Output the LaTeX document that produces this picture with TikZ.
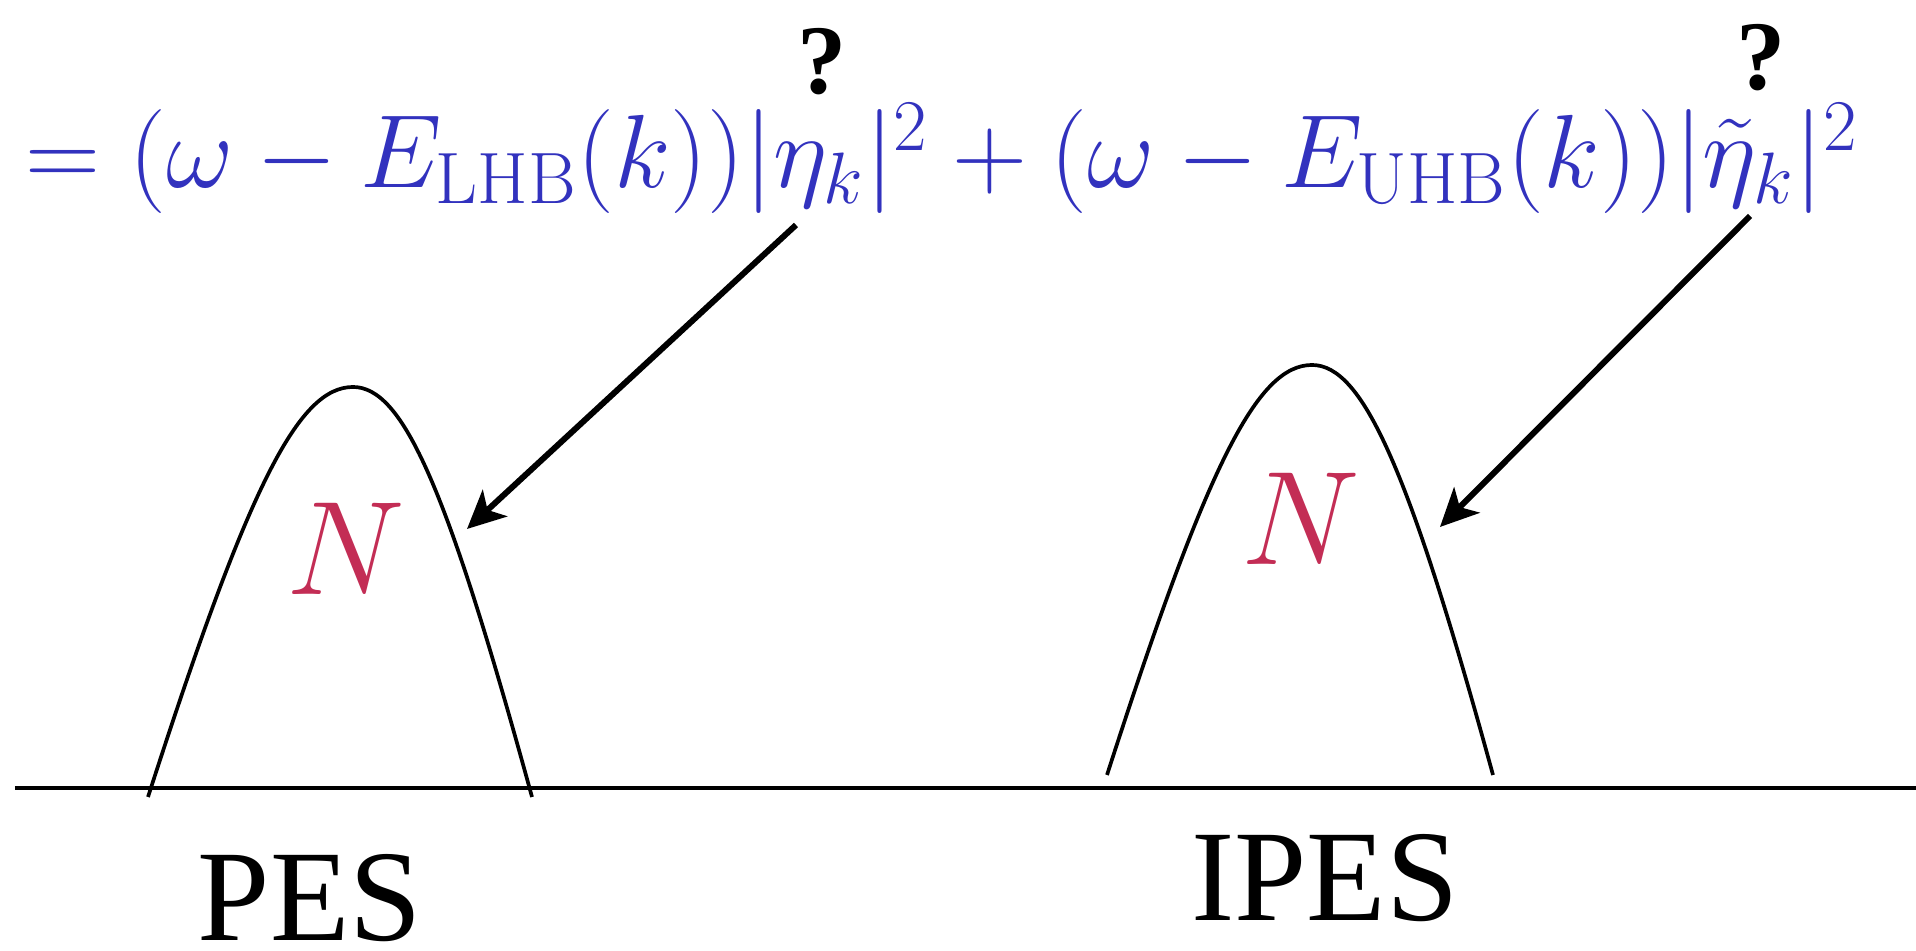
\RequirePackage{fix-cm}
\documentclass[tikz,border=0pt]{standalone}
\usepackage{fontspec}
\newfontfamily\timesfont{Liberation Serif}
\usepackage{amsmath}
\usepackage{tikz}
\usetikzlibrary{positioning, arrows.meta, calc}
\definecolor{formulablue}{RGB}{50, 50, 190}
\definecolor{densred}{RGB}{195, 45, 85}

\begin{document}
\begin{tikzpicture}[
  formula/.style={inner sep=0pt, anchor=base, text=formulablue,
    font=\fontsize{29.6}{34}\selectfont},
  query/.style={inner sep=0pt, anchor=base,
    font=\timesfont\bfseries\fontsize{28}{32}\selectfont},
  weight/.style={inner sep=0pt, anchor=base, text=densred,
    font=\fontsize{38}{44}\selectfont},
  spectro/.style={inner sep=0pt, anchor=base,
    font=\timesfont\fontsize{37}{42}\selectfont},
  hump/.style={line width=1.05pt},
  pointer/.style={line width=1.7pt,
    -{Stealth[length=3.8mm, width=3.6mm, inset=1mm]}}
]
  \useasboundingbox (0,0) rectangle (19.16,9.51);

  % spectral weight formula
  \node[formula] (eqn) at (9.42,7.63)
    {$=(\omega-E_{\mathrm{LHB}}(k))|\eta_k|^2+(\omega-E_{\mathrm{UHB}}(k))|\tilde{\eta}_k|^2$};
  \node[query] (qL) at (8.22,8.57) {?};
  \node[query] (qR) at (17.61,8.61) {?};

  % axis
  \coordinate (axL) at (0.15,1.63);
  \coordinate (axR) at (19.16,1.63);
  \draw[line width=1.4pt] (axL) -- (axR);

  % PES hump
  \coordinate (pesA) at (1.48,1.54);
  \coordinate (pesT) at (3.53,5.64);
  \coordinate (pesB) at (5.32,1.54);
  \draw[hump] (pesA) .. controls (2.48,4.64) and (2.98,5.64) .. (pesT)
    .. controls (4.03,5.64) and (4.47,4.64) .. (pesB);

  % IPES hump
  \coordinate (ipesA) at (11.07,1.76);
  \coordinate (ipesT) at (13.12,5.86);
  \coordinate (ipesB) at (14.93,1.76);
  \draw[hump] (ipesA) .. controls (12.07,4.86) and (12.57,5.86) .. (ipesT)
    .. controls (13.62,5.86) and (14.08,4.86) .. (ipesB);

  \node[weight] (nL) at (3.46,3.56) {$N$};
  \node[weight] (nR) at (13.01,3.86) {$N$};

  \node[spectro] (pes) at (3.10,0.10) {PES};
  \node[spectro] (ipes) at (13.25,0.30) {IPES};

  % pointers
  \coordinate (etaL) at (7.96,7.26);
  \coordinate (tipL) at (4.67,4.22);
  \coordinate (etaR) at (17.50,7.35);
  \coordinate (tipR) at (14.40,4.24);
  \draw[pointer] (etaL) -- (tipL);
  \draw[pointer] (etaR) -- (tipR);
\end{tikzpicture}
\end{document}
